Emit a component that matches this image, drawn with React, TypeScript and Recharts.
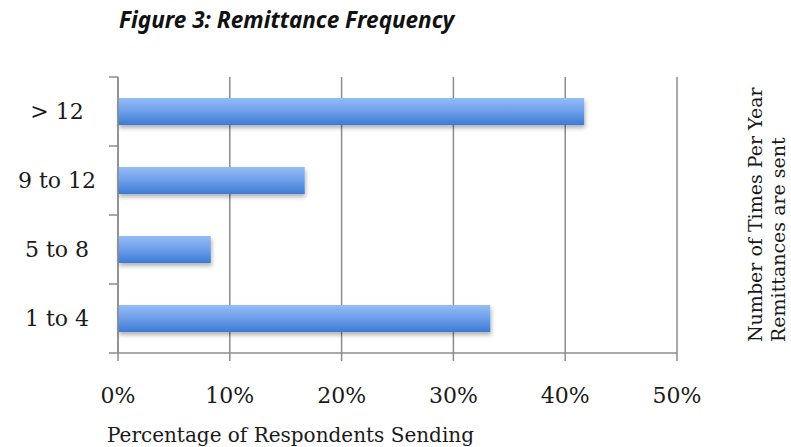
import React from 'react';
import { BarChart, Bar, XAxis, YAxis, CartesianGrid } from 'recharts';

const categories = ['> 12', '9 to 12', '5 to 8', '1 to 4'];
const percentages = [41.7, 16.7, 8.3, 33.3];
const xTicks = [0, 10, 20, 30, 40, 50];

const data = categories.map((freq, i) => ({ freq, pct: percentages[i] }));

const GRID = '#8c8c8c';
const SERIF = '"DejaVu Serif", serif';

const WIDTH = 791;
const HEIGHT = 447;
const MARGIN = { top: 77, right: 114, bottom: 0, left: 0 };
const X_AXIS_HEIGHT = 94;
const BAND_HALF = (HEIGHT - MARGIN.top - X_AXIS_HEIGHT) / categories.length / 2;

// category label plus boundary tick marks (ticks sit between bands, not at centers)
const YTick = (props: any) => {
  const { x, y, payload, index } = props;
  const axisX = x + 8;
  return (
    <g>
      <text x={57} y={y} dy="0.35em" textAnchor="middle" fontFamily={SERIF} fontSize={22} fill="#1a1a1a">
        {payload.value}
      </text>
      <line x1={axisX - 9} x2={axisX} y1={y - BAND_HALF} y2={y - BAND_HALF} stroke={GRID} strokeWidth={1.5} />
      {index === categories.length - 1 && (
        <line x1={axisX - 9} x2={axisX} y1={y + BAND_HALF} y2={y + BAND_HALF} stroke={GRID} strokeWidth={1.5} />
      )}
    </g>
  );
};

const App = () => {
  return (
    <div style={{ position: 'absolute', left: 0, top: 0, width: WIDTH, height: HEIGHT, background: '#fff' }}>
      <BarChart width={WIDTH} height={HEIGHT} data={data} layout="vertical" margin={MARGIN}>
        <defs>
          <linearGradient id="barGrad" x1="0" y1="0" x2="0" y2="1">
            <stop offset="0%" stopColor="#95bdf6" />
            <stop offset="50%" stopColor="#6c9ee9" />
            <stop offset="100%" stopColor="#3c7bd4" />
          </linearGradient>
          <filter id="barShadow" x="-5%" y="-20%" width="110%" height="160%">
            <feDropShadow dx="1" dy="3" stdDeviation="2" floodColor="#000" floodOpacity="0.3" />
          </filter>
        </defs>
        <CartesianGrid horizontal={false} stroke={GRID} strokeWidth={1.5} />
        <XAxis
          type="number"
          domain={[0, 50]}
          ticks={xTicks}
          tickFormatter={(v: number) => `${v}%`}
          height={X_AXIS_HEIGHT}
          axisLine={{ stroke: GRID, strokeWidth: 1.5 }}
          tickLine={{ stroke: GRID, strokeWidth: 1.5 }}
          tickSize={8}
          tickMargin={26}
          tick={{ fontFamily: SERIF, fontSize: 22, fill: '#1a1a1a' }}
        />
        <YAxis
          type="category"
          dataKey="freq"
          width={118}
          axisLine={{ stroke: GRID, strokeWidth: 1.5 }}
          tickLine={false}
          tick={<YTick />}
        />
        <Bar dataKey="pct" fill="url(#barGrad)" barSize={27} filter="url(#barShadow)" isAnimationActive={false} />
      </BarChart>
      <svg width={WIDTH} height={HEIGHT} style={{ position: 'absolute', left: 0, top: 0, pointerEvents: 'none' }}>
        <text x={119} y={28} fontFamily='"Noto Sans", "Open Sans", sans-serif' fontWeight="bold" fontStyle="italic" fontSize={22.5} fill="#111">
          Figure 3: Remittance Frequency
        </text>
        <text x={107} y={442} fontFamily={SERIF} fontSize={20} fill="#1a1a1a">
          Percentage of Respondents Sending
        </text>
        <g transform="translate(762, 342) rotate(-90)">
          <text x={0} y={0} fontFamily={SERIF} fontSize={19} fill="#1a1a1a">Number of Times Per Year</text>
          <text x={0} y={23} fontFamily={SERIF} fontSize={19} fill="#1a1a1a">Remittances are sent</text>
        </g>
      </svg>
    </div>
  );
};

export default App;
